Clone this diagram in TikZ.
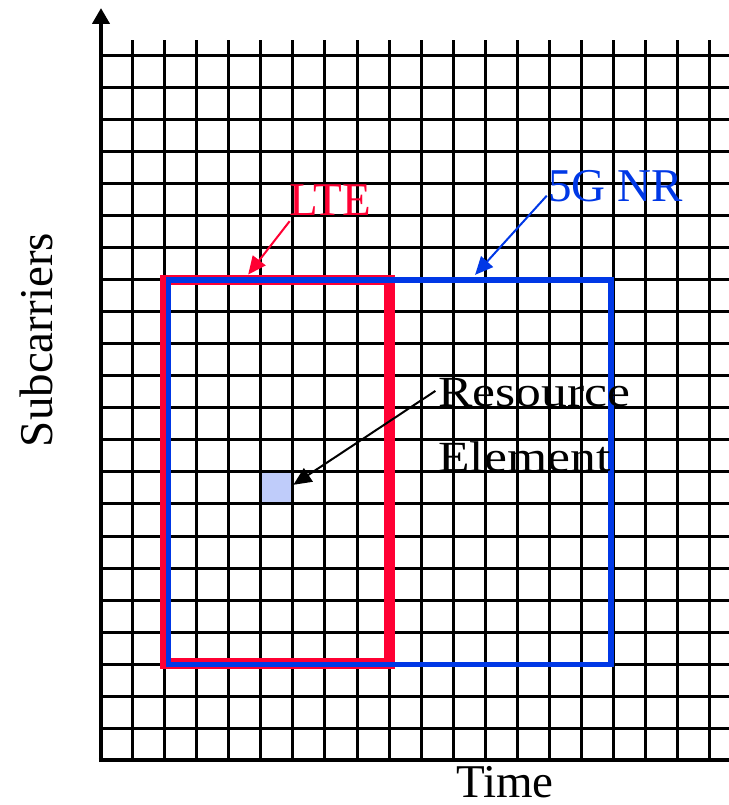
\documentclass[tikz,border=0pt]{standalone}
\usepackage{graphicx}
\usepackage{fontspec}
\setmainfont{Liberation Serif}
\usetikzlibrary{arrows.meta,calc,positioning}

\definecolor{ltered}{RGB}{255,0,51}
\definecolor{nrblue}{RGB}{0,56,230}
\definecolor{reblue}{RGB}{191,204,250}

\tikzset{
  gridline/.style={line width=1.5pt},
  axis/.style={line width=2.25pt},
  lbl/.style={inner sep=0pt,font=\fontsize{23.5}{28}\selectfont},
  pointer/.style={line width=1pt,-{Triangle[length=9pt,width=8pt]}}
}

\begin{document}
\begin{tikzpicture}[x=16pt,y=16pt]
\useasboundingbox (-3.156,-1.406) rectangle (19.625,23.75);

% one resource element
\node[fill=reblue,minimum size=16pt,inner sep=0pt] (cell) at (5.5,8.5) {};

% time/frequency grid
\foreach \y in {1,...,22}
  \draw[gridline] (0,\y) -- (19.625,\y);
\foreach \x in {1,...,19}
  \draw[gridline] (\x,0) -- (\x,22.5);

% axes
\draw[axis,-{Triangle[length=8pt,width=8.5pt]}] (0,-0.07) -- (0,23.5);
\draw[axis] (-0.07,0) -- (19.625,0);

% resource blocks
\draw[ltered,line width=5.25pt] (2.02,3.02) rectangle (9.02,15);
\draw[nrblue,line width=2.75pt] (2.11,2.98) rectangle (15.94,15);

% labels
\node[lbl,text=ltered,anchor=base west] (lte) at (5.875,17.03) {LTE};
\node[lbl,text=nrblue,anchor=base west] (nr) at (13.97,17.45) {5G NR};
\node[lbl,anchor=base] (t) at (12.625,-1.18) {Time};
\node[lbl,anchor=base,rotate=90] (sub) at (-1.53,13.125) {Subcarriers};
\node[inner sep=0pt,align=left,anchor=base west,font=\fontsize{21.5}{32.5}\selectfont]
  (re) at (10.53,9.01) {\scalebox{1.2}[1]{Resource}\\\scalebox{1.2}[1]{Element}};

\coordinate (ltetip) at (4.6,15.17);
\coordinate (nrtip) at (11.69,15.16);

\draw[pointer,ltered] ($(lte.south west)+(0.02,-0.18)$) -- (ltetip);
\draw[pointer,nrblue] ($(nr.south west)+(-0.04,0.21)$) -- (nrtip);
\draw[pointer] ($(re.north west)+(-0.08,-0.4)$) -- ([yshift=1.6pt]cell.east);

\end{tikzpicture}
\end{document}
